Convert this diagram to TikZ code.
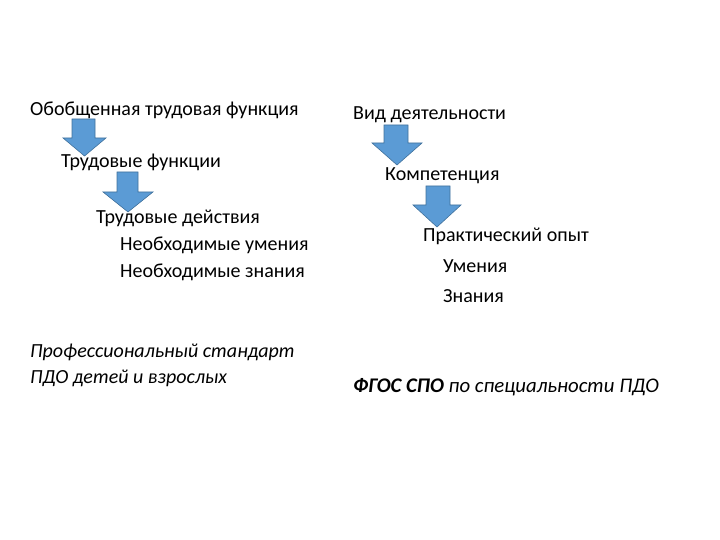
\documentclass[tikz,border=0pt]{standalone}
\usepackage{fontspec}
\setmainfont{Carlito}
\definecolor{arrowfill}{HTML}{5B9BD5}
\definecolor{arrowline}{HTML}{41719C}
\begin{document}
\begin{tikzpicture}[x=1pt,y=-1pt,
  lbl/.style={anchor=base west,inner sep=0pt,font=\fontsize{20}{24}\selectfont},
  ilbl/.style={lbl,font=\fontsize{20}{24}\selectfont\itshape},
  barrow/.style={fill=arrowfill,draw=arrowline,line width=0.6pt,line join=miter}]
\useasboundingbox (0,0) rectangle (720,540);
% left column
\node[lbl] (a1) at (30,116) {Обобщенная трудовая функция};
\node[lbl] (a2) at (61,168) {Трудовые функции};
\node[lbl] (a3) at (96,223) {Трудовые действия};
\node[lbl] (a4) at (120,250) {Необходимые умения};
\node[lbl] (a5) at (120,277) {Необходимые знания};
\node[ilbl] (a6) at (30,357) {Профессиональный стандарт};
\node[ilbl] (a7) at (30,383) {ПДО детей и взрослых};
% right column
\node[lbl] (b1) at (353,120) {Вид деятельности};
\node[lbl] (b2) at (385,181) {Компетенция};
\node[lbl] (b3) at (423,241) {Практический опыт};
\node[lbl] (b4) at (443,272) {Умения};
\node[lbl] (b5) at (443,302) {Знания};
\node[ilbl,font=\fontsize{20.8}{24}\selectfont\itshape] (b6) at (353,392) {\textbf{ФГОС СПО} по специальности ПДО};
% block arrows
\draw[barrow] (72,119) -- (95,119) -- (95,138) -- (106,138) -- (84.5,156) -- (63,138) -- (72,138) -- cycle;
\draw[barrow] (117,172) -- (138,172) -- (138,192) -- (153,192) -- (128,212) -- (103,192) -- (117,192) -- cycle;
\draw[barrow] (384,125) -- (408,125) -- (408,143) -- (422,143) -- (397,165) -- (372,143) -- (384,143) -- cycle;
\draw[barrow] (426,186) -- (450,186) -- (450,205) -- (461,205) -- (437,227) -- (413,205) -- (426,205) -- cycle;
\end{tikzpicture}
\end{document}
